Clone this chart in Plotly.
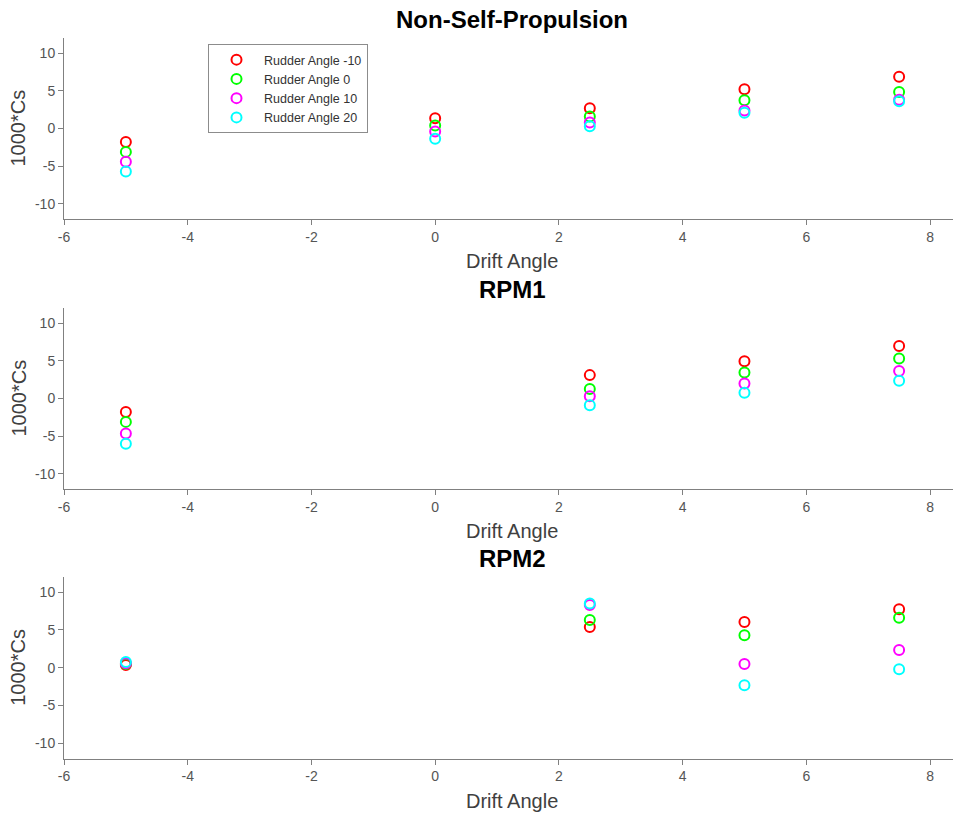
import plotly.graph_objects as go
from plotly.subplots import make_subplots

# ---- data ----
drift_nsp = [-5, 0, 2.5, 5, 7.5]
nsp_m10 = [-1.8, 1.35, 2.7, 5.2, 6.85]
nsp_0 = [-3.1, 0.4, 1.6, 3.75, 4.85]
nsp_10 = [-4.4, -0.4, 0.8, 2.4, 3.8]
nsp_20 = [-5.7, -1.35, 0.3, 2.1, 3.6]

drift_rpm = [-5, 2.5, 5, 7.5]
rpm1_m10 = [-1.8, 3.1, 4.95, 6.95]
rpm1_0 = [-3.1, 1.25, 3.45, 5.3]
rpm1_10 = [-4.65, 0.3, 2.0, 3.65]
rpm1_20 = [-6.0, -0.9, 0.75, 2.35]

rpm2_m10 = [0.35, 5.4, 6.05, 7.75]
rpm2_0 = [0.5, 6.3, 4.3, 6.6]
rpm2_10 = [0.6, 8.3, 0.5, 2.35]
rpm2_20 = [0.75, 8.5, -2.3, -0.2]

series_names = ["Rudder Angle -10", "Rudder Angle 0", "Rudder Angle 10", "Rudder Angle 20"]
colors = ["#ff0000", "#00ff00", "#ff00ff", "#00ffff"]
subplot_titles = ["Non-Self-Propulsion", "RPM1", "RPM2"]
x_ticks = [-6, -4, -2, 0, 2, 4, 6, 8]
y_ticks = [-10, -5, 0, 5, 10]

panels = [
    (drift_nsp, [nsp_m10, nsp_0, nsp_10, nsp_20]),
    (drift_rpm, [rpm1_m10, rpm1_0, rpm1_10, rpm1_20]),
    (drift_rpm, [rpm2_m10, rpm2_0, rpm2_10, rpm2_20]),
]

W, H = 953, 813
ML, MR = 64, 0
fig = make_subplots(rows=3, cols=1)

for r, (xs, ys_list) in enumerate(panels, start=1):
    for i, ys in enumerate(ys_list):
        fig.add_trace(go.Scatter(
            x=xs, y=ys, mode="markers", name=series_names[i],
            legendgroup=series_names[i], showlegend=(r == 1),
            marker=dict(symbol="circle-open", size=10, color=colors[i],
                        line=dict(width=2, color=colors[i])),
        ), row=r, col=1)

# axes pixel layout (top, bottom) for each panel
ypix = [(38, 219), (308, 489), (577, 758.5)]
plot_w = W - ML - MR
xmax = -6 + plot_w / 61.86

axis_common = dict(showline=True, linecolor="#808080", linewidth=1, ticks="outside",
                   ticklen=5, tickcolor="#808080", showgrid=False, zeroline=False,
                   mirror=False, tickfont=dict(family="Liberation Sans, Arial", size=14, color="#555555"),
                   automargin=False)

annotations = []
for k, (top, bot) in enumerate(ypix, start=1):
    dom = [1 - bot / H, 1 - top / H]
    sfx = "" if k == 1 else str(k)
    fig.update_layout(**{
        "xaxis" + sfx: dict(domain=[0, 1], range=[-6, xmax], tickvals=x_ticks,
                            ticktext=[str(t) for t in x_ticks], **axis_common),
        "yaxis" + sfx: dict(domain=dom, range=[-12, 12], tickvals=y_ticks,
                            ticktext=[str(t) for t in y_ticks], **axis_common),
    })
    xc = (512 - ML) / plot_w
    annotations.append(dict(text="<b>" + subplot_titles[k - 1] + "</b>", x=xc, xref="paper",
                            y=1 - (top - 19) / H, yref="paper", xanchor="center", yanchor="middle",
                            showarrow=False, font=dict(family="Liberation Sans, Arial", size=24, color="#000000")))
    annotations.append(dict(text="Drift Angle", x=xc, xref="paper",
                            y=1 - (bot + 42) / H, yref="paper", xanchor="center", yanchor="middle",
                            showarrow=False, font=dict(family="Liberation Sans, Arial", size=20, color="#404040")))
    annotations.append(dict(text="1000*Cs", x=(18 - ML) / plot_w, xref="paper",
                            y=1 - ((top + bot) / 2) / H, yref="paper", xanchor="center", yanchor="middle",
                            textangle=-90, showarrow=False,
                            font=dict(family="Liberation Sans, Arial", size=20, color="#404040")))

fig.update_layout(
    width=W, height=H,
    margin=dict(l=ML, r=MR, t=0, b=0),
    paper_bgcolor="white", plot_bgcolor="white",
    annotations=annotations,
    showlegend=True,
    legend=dict(x=(208 - ML) / plot_w, y=1 - 44 / H, xanchor="left", yanchor="top",
                bgcolor="white", bordercolor="#8c8c8c", borderwidth=1,
                font=dict(family="Liberation Sans, Arial", size=12.5, color="#333333"),
                itemwidth=45, tracegroupgap=0),
)

fig.write_html("out.html", config={"displayModeBar": False},
               post_script="document.body.style.margin='0px';")
